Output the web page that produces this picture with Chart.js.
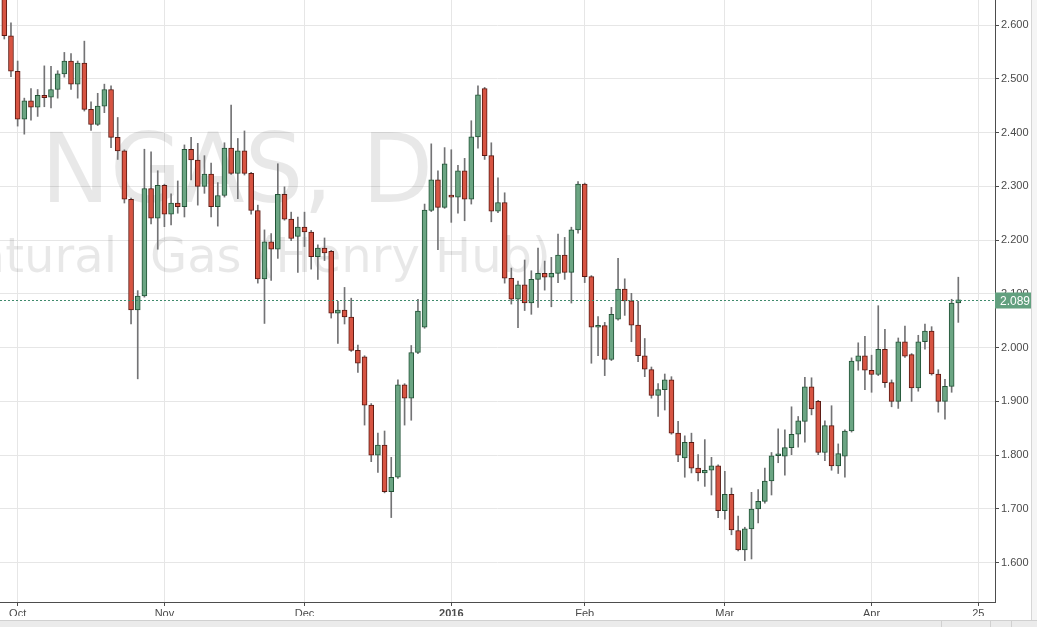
<!DOCTYPE html>
<html>
<head>
<meta charset="utf-8">
<script src="https://cdn.jsdelivr.net/npm/chart.js@4.4.1/dist/chart.umd.min.js"></script>
<style>
  html, body { margin: 0; padding: 0; background: #fff; overflow: hidden; }
  #wrap { width: 1037px; height: 627px; position: relative; }
</style>
</head>
<body>
<div id="wrap"><canvas id="chart"></canvas></div>
<script>
// Daily candles, Sep 29 2015 .. Apr 20 2016 (index 0 = Sep 29)
const opens = [
  2.670, 2.580, 2.514, 2.425, 2.459, 2.447, 2.469, 2.466, 2.480, 2.509,
  2.533, 2.490, 2.529, 2.443, 2.415, 2.449, 2.480, 2.391, 2.366, 2.276,
  2.070, 2.096, 2.296, 2.241, 2.302, 2.248, 2.269, 2.262, 2.369, 2.349,
  2.300, 2.323, 2.262, 2.283, 2.371, 2.324, 2.366, 2.324, 2.255, 2.128,
  2.197, 2.183, 2.285, 2.239, 2.207, 2.224, 2.215, 2.169, 2.185, 2.179,
  2.064, 2.070, 2.057, 1.995, 1.983, 1.893, 1.800, 1.819, 1.732, 1.759,
  1.931, 1.906, 1.991, 2.038, 2.255, 2.312, 2.261, 2.283, 2.280, 2.329,
  2.276, 2.392, 2.482, 2.357, 2.254, 2.270, 2.129, 2.090, 2.117, 2.083,
  2.127, 2.138, 2.131, 2.138, 2.172, 2.140, 2.219, 2.304, 2.132, 2.038,
  2.041, 1.978, 2.053, 2.109, 2.087, 2.042, 1.985, 1.959, 1.911, 1.922,
  1.940, 1.841, 1.795, 1.824, 1.776, 1.767, 1.772, 1.780, 1.697, 1.727,
  1.660, 1.624, 1.663, 1.700, 1.714, 1.752, 1.799, 1.798, 1.814, 1.839,
  1.863, 1.927, 1.900, 1.805, 1.855, 1.780, 1.798, 1.845, 1.975, 1.985,
  1.958, 1.950, 1.997, 1.935, 1.900, 2.011, 1.987, 1.925, 2.011, 2.031,
  1.951, 1.900, 1.928, 2.083
];
const highs = [
  2.680, 2.604, 2.533, 2.464, 2.482, 2.480, 2.524, 2.523, 2.515, 2.549,
  2.547, 2.533, 2.570, 2.457, 2.473, 2.490, 2.487, 2.428, 2.368, 2.278,
  2.106, 2.369, 2.364, 2.329, 2.304, 2.286, 2.310, 2.377, 2.391, 2.380,
  2.357, 2.343, 2.307, 2.381, 2.451, 2.389, 2.403, 2.326, 2.265, 2.219,
  2.212, 2.342, 2.299, 2.252, 2.243, 2.252, 2.218, 2.191, 2.204, 2.181,
  2.086, 2.112, 2.092, 2.005, 1.985, 1.896, 1.841, 1.845, 1.796, 1.940,
  1.933, 2.004, 2.090, 2.267, 2.379, 2.329, 2.372, 2.368, 2.339, 2.352,
  2.422, 2.487, 2.484, 2.381, 2.316, 2.288, 2.148, 2.124, 2.163, 2.143,
  2.185, 2.161, 2.168, 2.211, 2.205, 2.224, 2.309, 2.306, 2.134, 2.058,
  2.047, 2.075, 2.166, 2.128, 2.101, 2.086, 2.017, 1.964, 1.933, 1.951,
  1.946, 1.863, 1.836, 1.841, 1.801, 1.829, 1.796, 1.782, 1.770, 1.739,
  1.687, 1.666, 1.731, 1.736, 1.776, 1.805, 1.849, 1.847, 1.890, 1.872,
  1.945, 1.944, 1.902, 1.864, 1.892, 1.821, 1.847, 1.981, 2.009, 2.021,
  1.986, 2.078, 2.034, 1.940, 2.018, 2.040, 1.989, 2.023, 2.044, 2.039,
  1.959, 1.941, 2.090, 2.131
];
const lows = [
  2.574, 2.504, 2.412, 2.397, 2.423, 2.430, 2.448, 2.446, 2.464, 2.503,
  2.480, 2.464, 2.440, 2.404, 2.413, 2.437, 2.372, 2.350, 2.269, 2.044,
  1.942, 2.094, 2.230, 2.183, 2.225, 2.228, 2.250, 2.243, 2.312, 2.265,
  2.287, 2.243, 2.226, 2.280, 2.322, 2.277, 2.321, 2.248, 2.120, 2.045,
  2.125, 2.166, 2.237, 2.199, 2.140, 2.188, 2.146, 2.127, 2.162, 2.055,
  2.008, 2.044, 1.993, 1.954, 1.856, 1.788, 1.768, 1.730, 1.684, 1.757,
  1.856, 1.865, 1.989, 2.036, 2.253, 2.182, 2.259, 2.233, 2.250, 2.236,
  2.267, 2.371, 2.350, 2.234, 2.251, 2.120, 2.081, 2.037, 2.069, 2.062,
  2.075, 2.107, 2.076, 2.121, 2.127, 2.083, 2.213, 2.121, 1.971, 1.985,
  1.948, 1.976, 2.051, 2.060, 2.011, 1.974, 1.946, 1.906, 1.872, 1.884,
  1.839, 1.788, 1.759, 1.767, 1.752, 1.742, 1.726, 1.684, 1.681, 1.652,
  1.622, 1.604, 1.607, 1.674, 1.711, 1.726, 1.786, 1.763, 1.801, 1.815,
  1.824, 1.875, 1.801, 1.790, 1.772, 1.766, 1.759, 1.843, 1.958, 1.922,
  1.917, 1.948, 1.926, 1.890, 1.887, 1.982, 1.900, 1.919, 1.997, 1.949,
  1.880, 1.867, 1.917, 2.047
];
const closes = [
  2.580, 2.514, 2.425, 2.459, 2.447, 2.469, 2.465, 2.480, 2.509, 2.533,
  2.490, 2.529, 2.443, 2.415, 2.449, 2.480, 2.391, 2.366, 2.276, 2.070,
  2.096, 2.296, 2.241, 2.302, 2.248, 2.269, 2.262, 2.369, 2.349, 2.300,
  2.323, 2.262, 2.283, 2.371, 2.324, 2.366, 2.324, 2.255, 2.128, 2.197,
  2.183, 2.285, 2.239, 2.203, 2.224, 2.215, 2.169, 2.185, 2.176, 2.064,
  2.070, 2.057, 1.995, 1.971, 1.893, 1.800, 1.819, 1.732, 1.759, 1.931,
  1.906, 1.991, 2.068, 2.256, 2.312, 2.261, 2.342, 2.280, 2.329, 2.276,
  2.392, 2.470, 2.357, 2.254, 2.270, 2.129, 2.090, 2.117, 2.083, 2.127,
  2.138, 2.131, 2.138, 2.172, 2.140, 2.219, 2.304, 2.132, 2.038, 2.041,
  1.978, 2.062, 2.109, 2.087, 2.042, 1.985, 1.960, 1.911, 1.922, 1.940,
  1.841, 1.800, 1.824, 1.776, 1.767, 1.772, 1.780, 1.697, 1.727, 1.661,
  1.624, 1.663, 1.700, 1.714, 1.752, 1.799, 1.801, 1.814, 1.839, 1.864,
  1.927, 1.886, 1.805, 1.855, 1.780, 1.803, 1.845, 1.975, 1.985, 1.958,
  1.950, 1.997, 1.935, 1.900, 2.011, 1.984, 1.925, 2.011, 2.031, 1.951,
  1.900, 1.928, 2.083, 2.089
];

// Axis ticks
const priceTicks = [1.6, 1.7, 1.8, 1.9, 2.0, 2.1, 2.2, 2.3, 2.4, 2.5, 2.6];
const timeTickIdx = [2, 24, 45, 67, 87, 108, 130, 146];
const timeTickText = ["Oct", "Nov", "Dec", "2016", "Feb", "Mar", "Apr", "25"];

const symbolText = "NGAS, D";
const nameText = "Natural Gas (Henry Hub)";

// Colours
const upFill = "#6ba583", downFill = "#d75442";
const upBorder = "#225437", downBorder = "#5b1a13";
const wickColor = "#737375";
const gridColor = "#e6e6e6";
const axisColor = "#4d4d4d";
const textColor = "#4a4a4a";

const isUp = opens.map((o, i) => closes[i] >= o);

const wickData = highs.map((h, i) => ({ x: i, y: [lows[i], h] }));
const bodyData = opens.map((o, i) => ({ x: i, y: [Math.min(o, closes[i]), Math.max(o, closes[i])] }));

// Watermark behind the candles
const watermark = {
  id: "watermark",
  beforeDatasetsDraw(chart) {
    const { ctx, chartArea } = chart;
    ctx.save();
    ctx.beginPath();
    ctx.rect(chartArea.left, chartArea.top, chartArea.right - chartArea.left, chartArea.bottom - chartArea.top);
    ctx.clip();
    ctx.fillStyle = "rgba(0,0,0,0.09)";
    ctx.textBaseline = "alphabetic";
    ctx.font = "96px 'DejaVu Sans'";
    ctx.textAlign = "left";
    ctx.fillText(symbolText, 41, 202, 392);
    // second line: first word ends near the left edge, rest follows
    const cut = nameText.indexOf(" ");
    ctx.font = "48px 'DejaVu Sans'";
    ctx.textAlign = "right";
    ctx.fillText(nameText.slice(0, cut), 117, 272);
    ctx.textAlign = "left";
    ctx.fillText(nameText.slice(cut + 1), 150, 272, 402);
    ctx.restore();
  }
};

// Last price line and label
const lastPrice = {
  id: "lastPrice",
  afterDatasetsDraw(chart) {
    const { ctx, chartArea, scales } = chart;
    const last = closes[closes.length - 1];
    const y = Math.round(scales.y.getPixelForValue(last)) + 0.5;
    ctx.save();
    ctx.strokeStyle = "#3f8a6c";
    ctx.lineWidth = 1;
    ctx.setLineDash([2, 2]);
    ctx.beginPath();
    ctx.moveTo(chartArea.left, y);
    ctx.lineTo(chartArea.right, y);
    ctx.stroke();
    ctx.setLineDash([]);
    ctx.fillStyle = "#62a07f";
    ctx.fillRect(chartArea.right, y - 8, 36, 16);
    ctx.fillStyle = "#ffffff";
    ctx.font = "12px 'Liberation Sans'";
    ctx.textBaseline = "middle";
    ctx.textAlign = "left";
    ctx.fillText(last.toFixed(3), chartArea.right + 5, y + 1);
    ctx.restore();
  }
};

// Outer frame: right margin and bottom strip
const frame = {
  id: "frame",
  afterDraw(chart) {
    const { ctx, width, height } = chart;
    ctx.save();
    ctx.fillStyle = "#f5f5f5";
    ctx.fillRect(1032, 0, width - 1032, height);
    ctx.fillStyle = "#d6d6d6";
    ctx.fillRect(1031, 0, 1, height);
    ctx.fillStyle = "#ebebeb";
    ctx.fillRect(0, 620, width, height - 620);
    ctx.fillStyle = "#d0d0d0";
    ctx.fillRect(0, 620, width, 1);
    ctx.fillRect(941, 620, 1, height - 620);
    ctx.fillRect(990, 620, 1, height - 620);
    ctx.fillRect(1011, 620, 1, height - 620);
    ctx.restore();
  }
};

new Chart(document.getElementById("chart"), {
  type: "bar",
  data: {
    datasets: [
      {
        label: "wick",
        data: wickData,
        backgroundColor: wickColor,
        borderWidth: 0,
        barThickness: 1,
        grouped: false,
        order: 2
      },
      {
        label: "body",
        data: bodyData,
        backgroundColor: isUp.map(u => (u ? upFill : downFill)),
        borderColor: isUp.map(u => (u ? upBorder : downBorder)),
        borderWidth: 1,
        borderSkipped: false,
        barThickness: 5,
        minBarLength: 2,
        grouped: false,
        order: 1
      }
    ]
  },
  options: {
    responsive: true,
    maintainAspectRatio: false,
    animation: false,
    events: [],
    layout: { padding: { left: 0, top: 0, right: 6, bottom: 11 } },
    plugins: {
      legend: { display: false },
      tooltip: { enabled: false }
    },
    scales: {
      x: {
        type: "linear",
        offset: false,
        min: -0.645,
        max: 148.5,
        afterBuildTicks: axis => {
          axis.ticks = timeTickIdx.map(v => ({ value: v }));
        },
        afterFit: axis => {
          axis.height = 14;
          axis.paddingLeft = 0;
          axis.paddingRight = 0;
        },
        ticks: {
          autoSkip: false,
          maxRotation: 0,
          padding: 1,
          color: textColor,
          font: ctx => ({
            family: "'Liberation Sans', Arial, sans-serif",
            size: 11,
            weight: ctx.tick && ctx.tick.value === 67 ? "bold" : "normal"
          }),
          callback: v => {
            const k = timeTickIdx.indexOf(v);
            return k >= 0 ? timeTickText[k] : "";
          }
        },
        grid: { offset: false, color: gridColor, tickColor: axisColor, tickLength: 4, lineWidth: 1 },
        border: { display: true, color: axisColor, width: 1 }
      },
      y: {
        position: "right",
        min: 1.527,
        max: 2.6465,
        afterBuildTicks: axis => {
          axis.ticks = priceTicks.map(v => ({ value: v }));
        },
        afterFit: axis => {
          axis.width = 36;
          axis.paddingTop = 0;
          axis.paddingBottom = 0;
        },
        ticks: {
          padding: 2,
          color: textColor,
          font: { family: "'Liberation Sans', Arial, sans-serif", size: 11 },
          callback: v => Number(v).toFixed(3)
        },
        grid: { color: gridColor, tickColor: axisColor, tickLength: 4, lineWidth: 1 },
        border: { display: true, color: axisColor, width: 1 }
      }
    }
  },
  plugins: [watermark, lastPrice, frame]
});
</script>
</body>
</html>
